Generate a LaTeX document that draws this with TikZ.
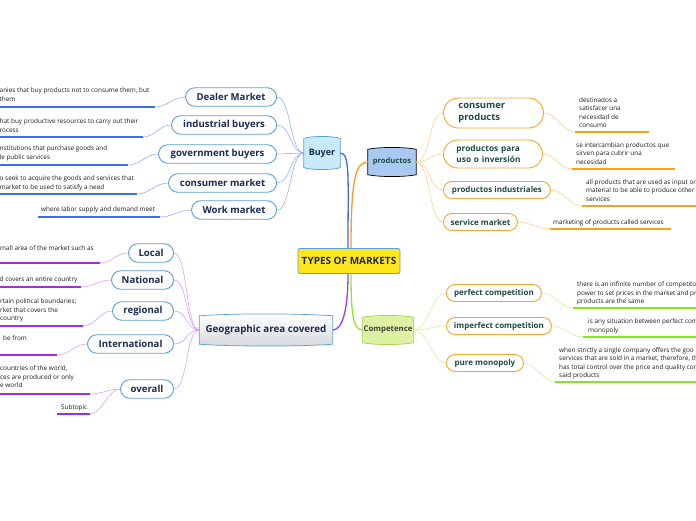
\documentclass[tikz,border=0pt]{standalone}
\usepackage{fontspec}
\setmainfont{Open Sans}
\usetikzlibrary{positioning,shapes.misc,calc,backgrounds}
\definecolor{cYellow}{HTML}{FFE61C}
\definecolor{cFrame}{HTML}{5B9FD6}
\definecolor{cNavy}{HTML}{1B2A52}
\definecolor{cTeal}{HTML}{1D4A42}
\definecolor{cDesc}{HTML}{1E1E1E}
\definecolor{cBuyer}{HTML}{C8EAF9}
\definecolor{cProd}{HTML}{A9C9F2}
\definecolor{cComp}{HTML}{DDF1A3}
\definecolor{cCompBd}{HTML}{A8D05C}
\definecolor{cGeo}{HTML}{D4D8DC}
\definecolor{cOrangeBd}{HTML}{F7A62A}
\definecolor{cBlue}{HTML}{3A6BF0}
\definecolor{cBlueL}{HTML}{80A8F6}
\definecolor{cOrange}{HTML}{FF9A1E}
\definecolor{cOrangeL}{HTML}{FFCB78}
\definecolor{cPurple}{HTML}{A43CF2}
\definecolor{cPurpleL}{HTML}{D394FA}
\definecolor{cGreen}{HTML}{8CE830}
\definecolor{cGreenL}{HTML}{C6F290}
\definecolor{cULblue}{HTML}{3B6FEA}
\definecolor{cULpurple}{HTML}{A428F0}
\definecolor{cULorange}{HTML}{F5A31A}
\definecolor{cULgreen}{HTML}{80E820}

% barrel-like frame behind a named node: node, fill, frame colour, bulge
\newcommand{\barrel}[4]{%
  \begin{pgfonlayer}{background}
    \draw[#3,#2,line width=0.7pt]
      (#1.north west) .. controls ($(#1.north west)!0.25!(#1.north east)+(0,-#4)$)
        and ($(#1.north west)!0.75!(#1.north east)+(0,-#4)$) .. (#1.north east)
      -- (#1.south east) .. controls ($(#1.south west)!0.75!(#1.south east)+(0,#4)$)
        and ($(#1.south west)!0.25!(#1.south east)+(0,#4)$) .. (#1.south west)
      -- cycle;
  \end{pgfonlayer}}

\tikzset{
  topic/.style={inner sep=0pt, font=\bfseries\fontsize{9}{11}\selectfont},
  pillb/.style={rounded rectangle, draw=cFrame, fill=white, line width=0.9pt,
    text=cNavy, font=\bfseries\fontsize{9.6}{11}\selectfont, minimum height=18.5pt,
    inner xsep=3pt, inner ysep=1pt},
  pillo/.style={rounded rectangle, draw=cOrangeBd, fill=white, line width=0.9pt,
    text=cTeal, font=\bfseries\fontsize{8}{10}\selectfont, minimum height=17pt,
    inner xsep=3pt, inner ysep=1pt},
  desc/.style={inner sep=0pt, align=left, anchor=north west, text=cDesc,
    font=\fontsize{6.4}{8.7}\selectfont},
  lnblue/.style={draw=cBlueL, line width=0.5pt},
  lnorange/.style={draw=cOrangeL, line width=0.5pt},
  lnpurple/.style={draw=cPurpleL, line width=0.5pt},
  lngreen/.style={draw=cGreenL, line width=0.5pt},
  ulblue/.style={draw=cULblue, line width=1.6pt},
  ulorange/.style={draw=cULorange, line width=1.6pt},
  ulpurple/.style={draw=cULpurple, line width=1.6pt},
  ulgreen/.style={draw=cULgreen, line width=1.6pt},
}

\begin{document}
\begin{tikzpicture}[x=1pt, y=-1pt]
  \useasboundingbox (0,0) rectangle (696,520);
  \begin{pgfonlayer}{background}
    \fill[white] (0,0) rectangle (696,520);
  \end{pgfonlayer}
  \clip (0,0) rectangle (696,520);

  % central topic
  \node (tm) [draw=cFrame, fill=cYellow, rounded corners=2pt, line width=0.8pt,
    minimum width=102pt, minimum height=25pt, inner xsep=1pt, text=cNavy,
    font=\bfseries\fontsize{10}{12}\selectfont] at (349,261) {TYPES OF MARKETS};

  % main topics
  \node (bu) [topic, text=cNavy, minimum width=36pt, minimum height=29pt] at (322,153) {Buyer};
  \barrel{bu}{fill=cBuyer}{cFrame}{2.5}
  \node (pr) [topic, text=cTeal, minimum width=48pt, minimum height=25pt,
    font=\bfseries\fontsize{7.6}{9}\selectfont] at (392,162) {productos};
  \barrel{pr}{fill=cProd}{black}{2.5}
  \node (geo) [topic, text=cNavy, minimum width=133pt, minimum height=28pt,
    font=\bfseries\fontsize{9.8}{11}\selectfont] at (266,330) {Geographic area covered};
  \barrel{geo}{top color=white, bottom color=cGeo}{cFrame}{2.5}
  \node (co) [topic, text=black!75, minimum width=51pt, minimum height=25pt,
    font=\bfseries\fontsize{7.8}{9}\selectfont] at (388,330) {Competence};
  \barrel{co}{fill=cComp}{cCompBd}{2.5}

  \draw[cBlue, line width=1.3pt] (bu.east) .. controls +(10,0) and +(0,-70) .. ([xshift=-1pt]tm.north);
  \draw[cOrange, line width=1.3pt] ([xshift=2pt]tm.north) .. controls +(0,-70) and +(-12,0) .. (pr.west);
  \draw[cPurple, line width=1.3pt] ([xshift=-1pt]tm.south) .. controls +(0,35) and +(10,0) .. (geo.east);
  \draw[cGreen, line width=1.3pt] ([xshift=2pt]tm.south) .. controls +(0,35) and +(-10,0) .. (co.west);

  % Buyer
  \node (dm) [pillb, minimum width=97pt, anchor=east] at (277,97) {Dealer Market};
  \node (ib) [pillb, minimum width=111pt, anchor=east] at (277,125) {industrial buyers};
  \node (gb) [pillb, minimum width=124pt, anchor=east] at (277,154) {government buyers};
  \node (cm) [pillb, minimum width=114pt, anchor=east] at (277,183) {consumer market};
  \node (wm) [pillb, minimum width=91pt, anchor=east] at (277,210) {Work market};
  \foreach \n in {dm,ib,gb,cm,wm}
    \draw[lnblue] (bu.west) .. controls +(-14,0) and +(14,0) .. (\n.east);

  \node (tdm) [desc] at (-0.5,87.4) {anies that buy products not to consume them, but\\them};
  \node (tib) [desc] at (-0.5,118.4) {hat buy productive resources to carry out their\\rocess};
  \node (tgb) [desc] at (-0.5,145.4) {nstitutions that purchase goods and\\le public services};
  \node (tcm) [desc] at (-0.5,175.4) {o seek to acquire the goods and services that\\ market to be used to satisfy a need};
  \node (twm) [desc] at (41,206.4) {where labor supply and demand meet};
  \coordinate (udm) at (155,107);
  \coordinate (uib) at (143,137);
  \coordinate (ugb) at (128,165);
  \coordinate (ucm) at (137,194);
  \coordinate (uwm) at (160,217);
  \draw[ulblue] (udm) -- ++(-160,0);
  \draw[ulblue] (uib) -- ++(-150,0);
  \draw[ulblue] (ugb) -- ++(-135,0);
  \draw[ulblue] (ucm) -- ++(-145,0);
  \draw[ulblue] (uwm) -- ++(-122,0);
  \foreach \n in {dm,ib,gb,cm,wm}
    \draw[lnblue] (\n.west) .. controls +(-12,0) and +(12,0) .. (u\n);

  % Geographic area covered
  \node (lo) [pillb, minimum width=51pt, anchor=east] at (174,253) {Local};
  \node (na) [pillb, minimum width=68pt, anchor=east] at (174,280) {National};
  \node (re) [pillb, minimum width=67pt, anchor=east] at (174,311) {regional};
  \node (in) [pillb, minimum width=92pt, anchor=east] at (174,344) {International};
  \node (ov) [pillb, minimum width=59pt, anchor=east] at (174,389) {overall};
  \foreach \n in {lo,na,re,in,ov}
    \draw[lnpurple] (geo.west) .. controls +(-14,0) and +(14,0) .. (\n.east);

  \node (tlo) [desc] at (0,245.4) {mall area of the market such as};
  \node (tna) [desc] at (-0.5,276.4) {d covers an entire country};
  \node (tre) [desc] at (0,298.4) {rtain political boundaries;\\rket that covers the\\ country};
  \node (tin) [desc] at (3,335.4) {be from};
  \node (tov) [desc] at (0,365.4) { countries of the world,\\ces are produced or only\\e world};
  \node (tsub) [desc] at (61,404.4) {Subtopic};
  \coordinate (ulo) at (100,263);
  \coordinate (una) at (81,287);
  \coordinate (ure) at (83,326);
  \coordinate (uin) at (57,355);
  \coordinate (uov) at (90,394);
  \coordinate (usub) at (90,414);
  \draw[ulpurple] (ulo) -- ++(-105,0);
  \draw[ulpurple] (una) -- ++(-85,0);
  \draw[ulpurple] (ure) -- ++(-90,0);
  \draw[ulpurple] (uin) -- ++(-60,0);
  \draw[ulpurple] (uov) -- ++(-95,0);
  \draw[ulpurple] (usub) -- ++(-33,0);
  \foreach \n in {lo,na,re,in,ov}
    \draw[lnpurple] (\n.west) .. controls +(-12,0) and +(12,0) .. (u\n);
  \draw[lnpurple] (ov.west) .. controls +(-12,0) and +(12,0) .. (usub);

  % productos
  \node (cp) [pillo, minimum width=106pt, minimum height=30pt, anchor=west, align=left,
    text width=70pt, font=\bfseries\fontsize{9.4}{11.5}\selectfont] at (443,113) {consumer\\products};
  \node (pp) [pillo, minimum width=105pt, minimum height=28pt, anchor=west, align=left,
    text width=73pt, font=\bfseries\fontsize{8.3}{10.5}\selectfont] at (443,154) {productos para\\uso o inversión};
  \node (pi) [pillo, minimum width=113pt, anchor=west] at (443,190) {productos industriales};
  \node (sm) [pillo, minimum width=80pt, anchor=west] at (443,222) {service market};
  \foreach \n in {cp,pp,pi,sm}
    \draw[lnorange] (pr.east) .. controls +(14,0) and +(-14,0) .. (\n.west);

  \node (tcp) [desc, font=\fontsize{6.4}{8.4}\selectfont] at (579,97.4) {destinados a\\satisfacer una\\necesidad de\\consumo};
  \node (tpp) [desc, font=\fontsize{6.4}{8.5}\selectfont] at (576,142.4) {se intercambian productos que\\sirven para cubrir una\\necesidad};
  \node (tpi) [desc, font=\fontsize{6.4}{8.5}\selectfont] at (586,179.4) {all products that are used as input or\\material to be able to produce other g\\services};
  \node (tsm) [desc] at (553,219.4) {marketing of products called services};
  \coordinate (ucp) at (575,132);
  \coordinate (upp) at (572,169);
  \coordinate (upi) at (582,206);
  \coordinate (usm) at (550,229);
  \draw[ulorange] (ucp) -- ++(74,0);
  \draw[ulorange] (upp) -- ++(103,0);
  \draw[ulorange] (upi) -- ++(120,0);
  \draw[ulorange] (usm) -- ++(121,0);
  \foreach \n in {cp,pp,pi,sm}
    \draw[lnorange] (\n.east) .. controls +(12,0) and +(-12,0) .. (u\n);

  % Competence
  \node (pc) [pillo, minimum width=101pt, anchor=west] at (446,293) {perfect competition};
  \node (ic) [pillo, minimum width=111pt, anchor=west] at (446,326) {imperfect competition};
  \node (pm) [pillo, minimum width=83pt, anchor=west] at (446,363) {pure monopoly};
  \foreach \n in {pc,ic,pm}
    \draw[lngreen] (co.east) .. controls +(14,0) and +(-14,0) .. (\n.west);

  \node (tpc) [desc, font=\fontsize{6.4}{8.5}\selectfont] at (577,281.4) {there is an infinite number of competito\\power to set prices in the market and pr\\products are the same};
  \node (tic) [desc] at (588,318.4) {is any situation between perfect com\\monopoly};
  \node (tpm) [desc, font=\fontsize{6.4}{8.4}\selectfont] at (559,347.4) {when strictly a single company offers the goo\\services that are sold in a market, therefore, th\\has total control over the price and quality con\\said products};
  \coordinate (upc) at (573,308);
  \coordinate (uic) at (583,337);
  \coordinate (upm) at (555,382);
  \draw[ulgreen] (upc) -- ++(130,0);
  \draw[ulgreen] (uic) -- ++(120,0);
  \draw[ulgreen] (upm) -- ++(145,0);
  \foreach \n in {pc,ic,pm}
    \draw[lngreen] (\n.east) .. controls +(12,0) and +(-12,0) .. (u\n);
\end{tikzpicture}
\end{document}
